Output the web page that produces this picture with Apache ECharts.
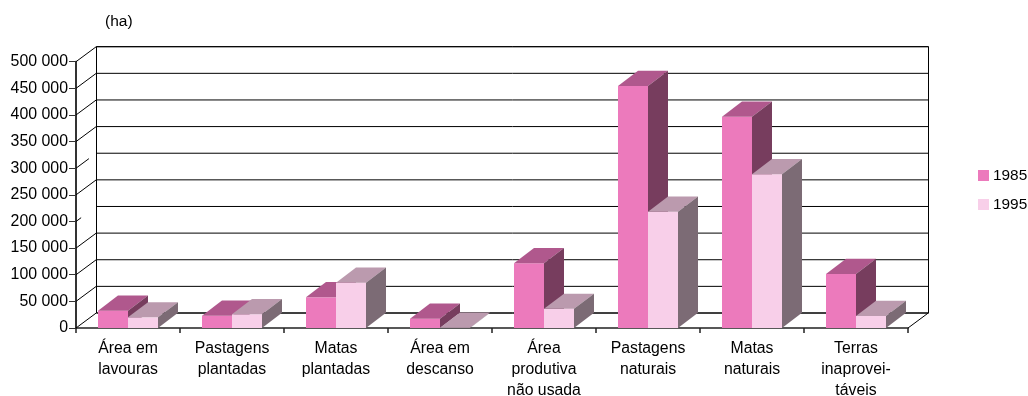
<!DOCTYPE html>
<html><head><meta charset="utf-8">
<style>html,body{margin:0;padding:0;background:#fff}#c{width:1028px;height:396px}</style>
<script src="https://cdn.jsdelivr.net/npm/echarts@6/dist/echarts.min.js"></script>
</head><body><div id="c"></div>
<script>
const categories = ['Área em\nlavouras','Pastagens\nplantadas','Matas\nplantadas','Área em\ndescanso','Área\nprodutiva\nnão usada','Pastagens\nnaturais','Matas\nnaturais','Terras\ninaprovei-\ntáveis'];
const values1985 = [32500,23000,57600,17500,121500,454400,396700,101400];
const values1995 = [20000,25700,85000,500,36000,218400,288600,22500];
const gridValues = [0,50000,100000,150000,200000,250000,300000,350000,400000,450000,500000];
const diagonalReach = [1,1,1,1,0.25,1,0.63,1,1,1,1];
const DX = 20, DY = -15.2;
const font = 'Liberation Sans';

function bars(front, top, side, shift) {
  return function (params, api) {
    const i = api.value(0);
    const p = api.coord([i, api.value(1)]);
    const b = api.coord([i, 0]);
    const w = api.size([1, 0])[0] * 0.2885;
    const xl = p[0] + (shift - 1) * w;
    const xr = xl + w;
    const yt = p[1], yb = b[1];
    const poly = (pts, fill) => ({type:'polygon', shape:{points:pts}, style:{fill, stroke:null}});
    return {type:'group', children:[
      poly([[xl,yb],[xr,yb],[xr,yt],[xl,yt]], front),
      poly([[xl,yt],[xr,yt],[xr+DX,yt+DY],[xl+DX,yt+DY]], top),
      poly([[xr,yb],[xr+DX,yb+DY],[xr+DX,yt+DY],[xr,yt]], side)
    ]};
  };
}

const chart = echarts.init(document.getElementById('c'), null, {renderer:'canvas'});
chart.setOption({
  animation:false,
  backgroundColor:'#fff',
  textStyle:{fontFamily:font,color:'#000'},
  title:{text:'(ha)',left:105,top:14,padding:0,textStyle:{fontFamily:font,fontSize:15.5,fontWeight:'normal',color:'#000'}},
  legend:{orient:'vertical',left:978,top:168,padding:0,itemWidth:11,itemHeight:11,itemGap:14,selectedMode:false,
    textStyle:{fontFamily:font,fontSize:15.4,color:'#000',padding:[0,0,0,-1]},
    data:[{name:'1985',icon:'rect',itemStyle:{color:'#EC7ABC'}},{name:'1995',icon:'rect',itemStyle:{color:'#F8CFE9'}}]},
  grid:[
    {left:76,right:120,top:61.7,bottom:68,outerBoundsMode:'none'},
    {left:96.5,right:99.5,top:46.7,bottom:83,outerBoundsMode:'none',show:true,borderColor:'#000',borderWidth:1,backgroundColor:'transparent'}
  ],
  xAxis:[
    {type:'category',gridIndex:0,data:categories,boundaryGap:true,
      axisLine:{show:true,lineStyle:{color:'#222',width:1.5}},
      axisTick:{show:true,alignWithLabel:false,length:5,lineStyle:{color:'#222',width:1.5}},
      axisLabel:{interval:0,margin:10,fontFamily:font,fontSize:15.8,color:'#000',lineHeight:21,align:'center'},
      splitLine:{show:false}},
    {type:'category',gridIndex:1,data:categories,show:false}
  ],
  yAxis:[
    {type:'value',gridIndex:0,min:0,max:500000,interval:50000,
      axisLine:{show:true,lineStyle:{color:'#333',width:2}},
      axisTick:{show:true,length:7,lineStyle:{color:'#333'}},
      axisLabel:{margin:8,fontFamily:font,fontSize:15.9,color:'#000',formatter:v=>String(v).replace(/\B(?=(\d{3})+$)/g,' ')},
      splitLine:{show:false}},
    {type:'value',gridIndex:1,min:0,max:500000,interval:50000,
      axisLine:{show:false},axisTick:{show:false},axisLabel:{show:false},splitLine:{show:false}}
  ],
  series:[
    {type:'custom',name:'back wall',silent:true,xAxisIndex:1,yAxisIndex:1,z:1,encode:{x:0,y:1},
      data:gridValues.map(v=>[0,v]),
      renderItem:(p,api)=>{
        const c=api.coord([0,api.value(1)]);
        const band=api.size([1,0])[0];
        const x=c[0]-band/2;
        return {type:'line',shape:{x1:x,y1:c[1],x2:x+band*8,y2:c[1]},style:{stroke:'#000',lineWidth:1}};
      }},
    {type:'custom',name:'side wall',silent:true,xAxisIndex:0,yAxisIndex:0,z:1,encode:{x:0,y:1},
      data:gridValues.map((v,i)=>[0,v,diagonalReach[i]]),
      renderItem:(p,api)=>{
        const c=api.coord([0,api.value(1)]);
        const x=c[0]-api.size([1,0])[0]/2;
        const r=api.value(2);
        return {type:'line',shape:{x1:x,y1:c[1],x2:x+20.5*r,y2:c[1]+DY*r},style:{stroke:'#000',lineWidth:1}};
      }},
    {type:'custom',name:'floor',silent:true,xAxisIndex:0,yAxisIndex:0,z:1,encode:{x:0,y:1},
      data:[[7,0]],
      renderItem:(p,api)=>{
        const c=api.coord([7,0]);
        const x=c[0]+api.size([1,0])[0]/2;
        return {type:'line',shape:{x1:x,y1:c[1],x2:x+20.5,y2:c[1]+DY},style:{stroke:'#000',lineWidth:1}};
      }},
    {type:'custom',name:'1985',z:3,xAxisIndex:0,yAxisIndex:0,encode:{x:0,y:1},itemStyle:{color:'#EC7ABC'},
      data:values1985.map((v,i)=>[i,v]),renderItem:bars('#EC7ABC','#B0588D','#773D5E',0)},
    {type:'custom',name:'1995',z:4,xAxisIndex:0,yAxisIndex:0,encode:{x:0,y:1},itemStyle:{color:'#F8CFE9'},
      data:values1995.map((v,i)=>[i,v]),renderItem:bars('#F8CFE9','#BB9AAE','#7C6B75',1)}
  ]
});
</script></body></html>
